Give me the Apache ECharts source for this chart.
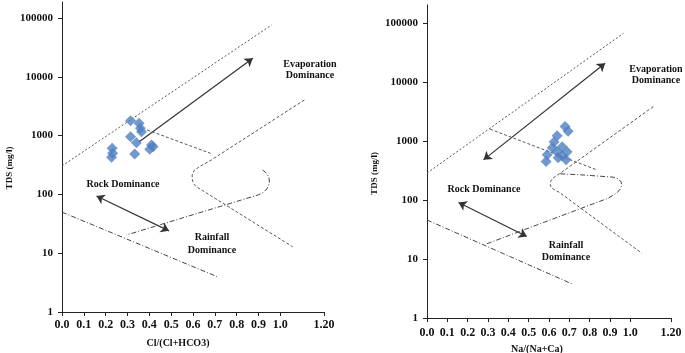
<!DOCTYPE html>
<html>
<head>
<meta charset="utf-8">
<script src="https://cdn.jsdelivr.net/npm/echarts@6/dist/echarts.min.js"></script>
<style>
html, body { margin: 0; padding: 0; background: #fff; }
#main { width: 685px; height: 353px; }
</style>
</head>
<body>
<div id="main"></div>
<script>
// tick labels
const xTicks = [0, 0.1, 0.2, 0.3, 0.4, 0.5, 0.6, 0.7, 0.8, 0.9, 1.0, 1.2];
const yTicks = [1, 10, 100, 1000, 10000, 100000];

// samples [ratio, TDS mg/l]
const clSamples = [[0.314, 1790], [0.353, 1620], [0.359, 1330], [0.364, 1165], [0.314, 960],
  [0.341, 757], [0.230, 608], [0.232, 500], [0.227, 428], [0.333, 486],
  [0.410, 692], [0.402, 585], [0.417, 648]];
const naSamples = [[0.679, 1767], [0.694, 1466], [0.640, 1230], [0.625, 972], [0.616, 770],
  [0.591, 586], [0.586, 451], [0.640, 659], [0.665, 563], [0.689, 659],
  [0.684, 482], [0.645, 521], [0.665, 802]];

// Gibbs boundaries - Cl/(Cl+HCO3)
const clUpper = [[0, 305], [0.96, 76000]];
const clRockTop = [[0.39, 1250], [0.68, 500]];
const clLoopA = [[1.11, 4030], [0.684, 385], [0.63, 296], [0.605, 255], [0.596, 214], [0.597, 176],
  [0.605, 147], [0.621, 131], [0.644, 116], [1.056, 12.9]];
const clLoopB = [[0.919, 260], [0.936, 231], [0.947, 198], [0.95, 169], [0.947, 144], [0.938, 124],
  [0.922, 108], [0.90, 98.4], [0.295, 20.4]];
const clLower = [[0, 50], [0.71, 4]];
const clEvapArrow = [[0.352, 780], [0.874, 20600]];
const clRockArrow = [[0.158, 94], [0.49, 24]];

// Gibbs boundaries - Na/(Na+Ca)
const naUpper = [[0, 287], [0.966, 67700]];
const naRockTop = [[0.31, 1600], [0.835, 326]];
const naLoopA = [[1.113, 3857], [0.655, 285], [0.635, 258], [0.618, 234], [0.608, 208], [0.606, 182],
  [0.613, 161], [0.630, 147], [0.650, 136], [1.056, 12.6]];
const naLoopB = [[0.655, 279], [0.753, 269], [0.917, 245], [0.940, 230], [0.953, 207], [0.958, 182],
  [0.952, 156], [0.936, 135], [0.915, 121], [0.892, 108], [0.295, 18.2]];
const naLower = [[0, 46], [0.72, 3.7]];
const naEvapArrow = [[0.278, 482], [0.876, 21000]];
const naRockArrow = [[0.155, 91], [0.491, 24.2]];

const FONT = '"Liberation Serif", "DejaVu Serif", serif';
const lg = p => [p[0], Math.log10(p[1])];

function boundary(idx, pts, color, type) {
  return {
    type: 'line', xAxisIndex: idx, yAxisIndex: idx, silent: true,
    data: pts.map(lg), symbol: 'none',
    lineStyle: { color: color, width: 1, type: type }
  };
}
function arrow(idx, pts, both) {
  return {
    type: 'lines', coordinateSystem: 'cartesian2d', xAxisIndex: idx, yAxisIndex: idx, silent: true,
    symbol: [both ? 'arrow' : 'none', 'arrow'], symbolSize: 8,
    lineStyle: { color: '#333', width: 1.2, opacity: 1 },
    data: [{ coords: pts.map(lg) }]
  };
}
function xAxis(idx, name, pad, margin) {
  return {
    type: 'value', gridIndex: idx, min: 0, max: 1.2,
    name: name, nameLocation: 'middle', nameGap: 26,
    nameTextStyle: { fontFamily: FONT, fontWeight: 'bold', fontSize: 10, color: '#111', padding: [0, pad, 0, 0] },
    axisLine: { onZero: false, lineStyle: { color: '#222', width: 1 } },
    axisTick: { customValues: xTicks, length: 4, lineStyle: { color: '#222' } },
    axisLabel: {
      customValues: xTicks, margin: margin, fontFamily: FONT, fontWeight: 'bold', fontSize: 12, color: '#111',
      formatter: v => (Math.abs(v - 1.2) < 1e-9 ? '1.20' : v.toFixed(1))
    },
    splitLine: { show: false }
  };
}
function yAxis(idx, max, pad) {
  return {
    type: 'value', gridIndex: idx, min: 0, max: max,
    name: 'TDS (mg/l)', nameLocation: 'middle', nameGap: 48, nameRotate: 90,
    nameTextStyle: { fontFamily: FONT, fontWeight: 'bold', fontSize: 9, color: '#111', padding: [0, pad, 0, 0] },
    axisLine: { show: true, lineStyle: { color: '#222', width: 1 } },
    axisTick: { show: true, customValues: yTicks.map(Math.log10), length: 4, lineStyle: { color: '#222' } },
    axisLabel: {
      customValues: yTicks.map(Math.log10), margin: 9, fontFamily: FONT, fontWeight: 'bold', fontSize: 11, color: '#111',
      formatter: v => String(Math.round(Math.pow(10, v)))
    },
    splitLine: { show: false }
  };
}
function panel(idx, samples, upper, rockTop, loopA, loopB, lower, evapArrow, rockArrow, evapBoth) {
  return [
    boundary(idx, upper, '#555', [2, 2]),
    boundary(idx, rockTop, '#555', [3, 2]),
    boundary(idx, loopA, '#555', [3, 2]),
    boundary(idx, loopB, '#444', [5, 2, 1, 2]),
    boundary(idx, lower, '#444', [5, 2, 1, 2]),
    arrow(idx, evapArrow, evapBoth),
    arrow(idx, rockArrow, true),
    {
      type: 'scatter', xAxisIndex: idx, yAxisIndex: idx, symbol: 'diamond', symbolSize: 11,
      itemStyle: { color: '#4f7fc0' }, data: samples.map(lg), z: 5
    }
  ];
}
function note(x, y, text, lh) {
  return {
    type: 'text', x: x, y: y, silent: true,
    style: { text: text, textAlign: 'center', textVerticalAlign: 'middle', lineHeight: lh || 11,
      font: 'bold 10px ' + FONT, fill: '#111' }
  };
}

const chart = echarts.init(document.getElementById('main'));
chart.setOption({
  animation: false,
  grid: [
    { left: 62, top: 2, width: 262, height: 310, outerBoundsMode: 'none' },
    { left: 427, top: 5, width: 244, height: 313, outerBoundsMode: 'none' }
  ],
  xAxis: [xAxis(0, 'Cl/(Cl+HCO3)', 30, 7), xAxis(1, 'Na/(Na+Ca)', 24, 9)],
  yAxis: [yAxis(0, 5.272, 22), yAxis(1, 5.31, 24)],
  series: [].concat(
    panel(0, clSamples, clUpper, clRockTop, clLoopA, clLoopB, clLower, clEvapArrow, clRockArrow, false),
    panel(1, naSamples, naUpper, naRockTop, naLoopA, naLoopB, naLower, naEvapArrow, naRockArrow, true)
  ),
  graphic: [
    note(310, 69.5, 'Evaporation\nDominance'),
    note(123, 184, 'Rock Dominance'),
    note(212, 244, 'Rainfall\nDominance', 12.5),
    note(656, 75, 'Evaporation\nDominance'),
    note(484, 189, 'Rock Dominance'),
    note(566, 251, 'Rainfall\nDominance', 12)
  ]
});
window.addEventListener('resize', function () { chart.resize(); });
</script>
</body>
</html>
